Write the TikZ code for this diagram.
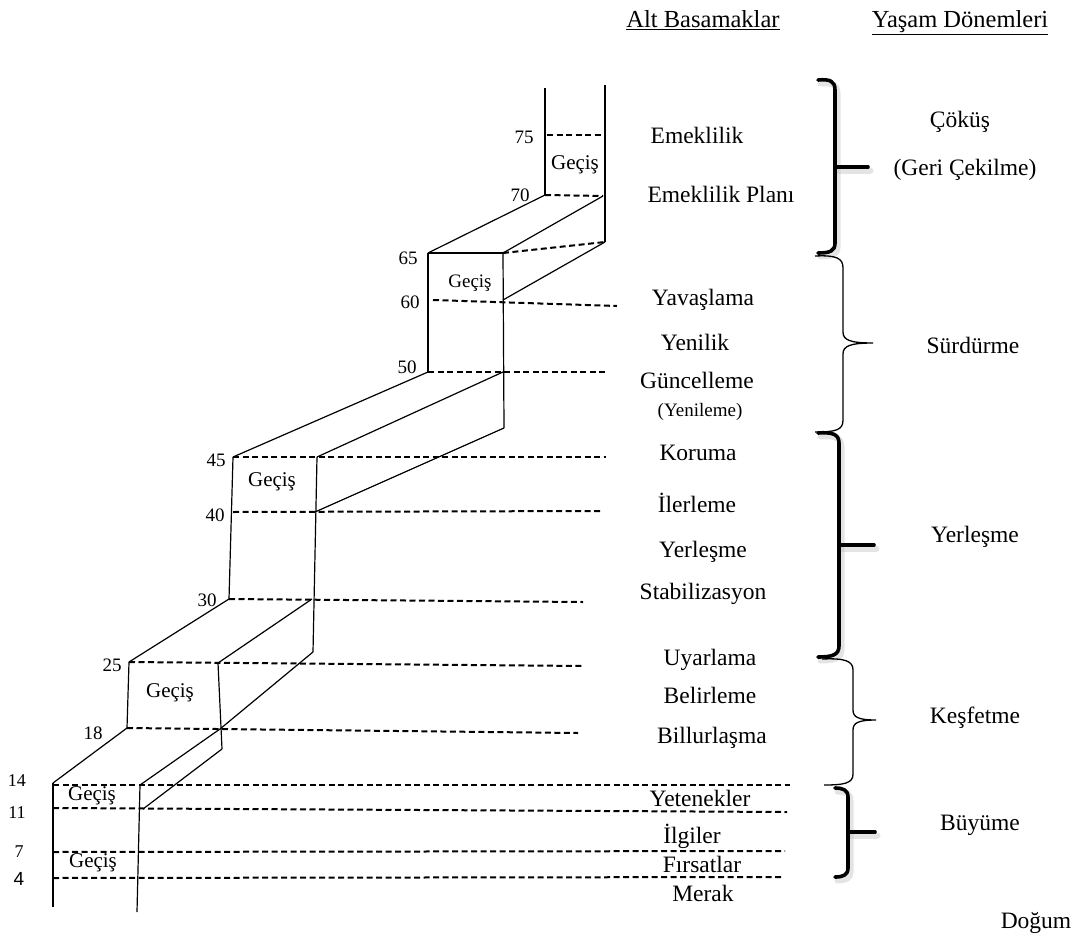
\documentclass[tikz,border=0pt]{standalone}
\usepackage{fontspec}
\setmainfont{Liberation Serif}
\newfontfamily\lsans{Liberation Sans}
\begin{document}
\begin{tikzpicture}[x=1pt,y=-1pt,
  solidln/.style={line width=1.2pt},
  dashln/.style={line width=2pt,dash pattern=on 6pt off 3.5pt},
  numlbl/.style={font=\fontsize{19}{22}\selectfont,inner sep=0pt},
  geclbl/.style={font=\fontsize{21}{24}\selectfont,inner sep=0pt},
  sublbl/.style={font=\fontsize{23.5}{27}\selectfont,inner sep=0pt},
  hdrlbl/.style={font=\fontsize{24.5}{28}\selectfont,inner sep=0pt,anchor=base},
  phaselbl/.style={font=\fontsize{23.5}{27}\selectfont,inner sep=0pt},
  boldbrace/.style={line width=3.6pt,line cap=round,line join=round},
  braceshadow/.style={line width=6pt,draw=black!30,opacity=0.35,line cap=round},
  thinbrace/.style={line width=1.3pt,line join=miter}]
\useasboundingbox (0,0) rectangle (1076,942);

% ---------- coordinates ----------
\coordinate (TLtop) at (545,88);  \coordinate (TRtop) at (605,85);
\coordinate (T75L) at (547,135);  \coordinate (T75R) at (605,135);
\coordinate (T70L) at (545,195);  \coordinate (T70R) at (603,196);
\coordinate (TRbot) at (605,242);
\coordinate (B65L) at (428,253);  \coordinate (B65R) at (503,253);
\coordinate (D60s) at (433,300);  \coordinate (D60e) at (617,306);
\coordinate (B60R) at (503,300);
\coordinate (B50L) at (428,372);  \coordinate (B50R) at (503,372);
\coordinate (D50e) at (605,372);
\coordinate (B65Rb) at (504,428);
\coordinate (B45L) at (233,457);  \coordinate (B45R) at (317,457);
\coordinate (D45e) at (606,457);
\coordinate (D40s) at (233,512);  \coordinate (D40e) at (602,511);
\coordinate (B40R) at (315,512);
\coordinate (B30L) at (229,599);  \coordinate (B30R) at (312,599);
\coordinate (D30e) at (583,602);
\coordinate (B45Rb) at (313,652);
\coordinate (B25L) at (129,662);  \coordinate (B25R) at (218,663);
\coordinate (D25e) at (583,666);
\coordinate (B18L) at (127,728);  \coordinate (B18R) at (220,729);
\coordinate (D18e) at (578,733);
\coordinate (B25Rb) at (222,749);
\coordinate (B14L) at (53,783);   \coordinate (B14R) at (140,785);
\coordinate (D14s) at (53,785);   \coordinate (D14e) at (790,785);
\coordinate (D11s) at (53,808);   \coordinate (D11e) at (787,812);
\coordinate (B11R) at (143,809);
\coordinate (D7s) at (53,852);    \coordinate (D7e) at (785,851);
\coordinate (D4s) at (53,878);    \coordinate (D4e) at (782,877);
\coordinate (BLbot) at (53,907);  \coordinate (BRbot) at (137,912);

% ---------- top column ----------
\draw[solidln] (TLtop) -- (T70L);
\draw[solidln] (TRtop) -- (TRbot);
\draw[dashln] (T75L) -- (T75R);
\draw[dashln] (T70L) -- (T70R);
\draw[solidln] (T70L) -- (B65L);
\draw[solidln] (T70R) -- (B65R);
\draw[solidln] (TRbot) -- (B60R);
\draw[dashln] (B65R) -- (TRbot);

% ---------- 65 box ----------
\draw[solidln] (B65L) -- (B65R);
\draw[solidln] (B65L) -- (B50L);
\draw[solidln] (B65R) -- (B65Rb);
\draw[dashln] (D60s) -- (D60e);
\draw[dashln] (B50L) -- (D50e);
\draw[solidln] (B50L) -- (B45L);
\draw[solidln] (B50R) -- (B45R);
\draw[solidln] (B65Rb) -- (B40R);

% ---------- 45 box ----------
\draw[dashln] (B45L) -- (D45e);
\draw[solidln] (B45L) -- (B30L);
\draw[solidln] (B45R) -- (B45Rb);
\draw[dashln] (D40s) -- (D40e);
\draw[dashln] (B30L) -- (D30e);
\draw[solidln] (B30L) -- (B25L);
\draw[solidln] (B30R) -- (B25R);
\draw[solidln] (B45Rb) -- (B18R);

% ---------- 25 box ----------
\draw[dashln] (B25L) -- (D25e);
\draw[solidln] (B25L) -- (B18L);
\draw[solidln] (B25R) -- (B25Rb);
\draw[dashln] (B18L) -- (D18e);
\draw[solidln] (B18L) -- (B14L);
\draw[solidln] (B18R) -- (B14R);
\draw[solidln] (B25Rb) -- (B11R);

% ---------- bottom box ----------
\draw[dashln] (D14s) -- (D14e);
\draw[dashln] (D11s) -- (D11e);
\draw[dashln] (D7s) -- (D7e);
\draw[dashln] (D4s) -- (D4e);
\draw[solidln] (B14L) -- (BLbot);
\draw[solidln] (B14R) -- (BRbot);

% ---------- age numbers ----------
\node[numlbl] (n75) at (524,137) {75};
\node[numlbl] (n70) at (520,195) {70};
\node[numlbl] (n65) at (408,258) {65};
\node[numlbl] (n60) at (410,302) {60};
\node[numlbl] (n50) at (407,367) {50};
\node[numlbl] (n45) at (216,460) {45};
\node[numlbl] (n40) at (215,515) {40};
\node[numlbl] (n30) at (207,600) {30};
\node[numlbl] (n25) at (112,665) {25};
\node[numlbl] (n18) at (93,733) {18};
\node[numlbl,font=\fontsize{18}{20}\selectfont] (n14) at (17,781) {14};
\node[numlbl,font=\fontsize{18}{20}\selectfont] (n11) at (17,813) {11};
\node[numlbl,font=\fontsize{18}{20}\selectfont] (n7) at (19,852) {7};
\node[numlbl,font=\lsans\fontsize{19}{22}\selectfont] (n4) at (19,879) {4};

% ---------- transition labels ----------
\node[geclbl] (g1) at (575,165) {Geçiş};
\node[geclbl,font=\fontsize{19}{22}\selectfont] (g2) at (470,283) {Geçiş};
\node[geclbl] (g3) at (272,482) {Geçiş};
\node[geclbl] (g4) at (170,693) {Geçiş};
\node[geclbl] (g5) at (92,796) {Geçiş};
\node[geclbl] (g6) at (93,863) {Geçiş};

% ---------- sub-stage labels ----------
\node[sublbl] (s1) at (697,135) {Emeklilik};
\node[sublbl] (s2) at (721,194) {Emeklilik Planı};
\node[sublbl] (s3) at (703,300) {Yavaşlama};
\node[sublbl] (s4) at (695,342) {Yenilik};
\node[sublbl] (s5) at (697,380) {Güncelleme};
\node[sublbl,font=\fontsize{19}{22}\selectfont] (s6) at (700,412) {(Yenileme)};
\node[sublbl] (s7) at (698,453) {Koruma};
\node[sublbl] (s8) at (697,503) {İlerleme};
\node[sublbl] (s9) at (703,552) {Yerleşme};
\node[sublbl] (s10) at (703,594) {Stabilizasyon};
\node[sublbl] (s11) at (710,660) {Uyarlama};
\node[sublbl] (s12) at (710,695) {Belirleme};
\node[sublbl] (s13) at (712,738) {Billurlaşma};
\node[sublbl] (s14) at (700,798) {Yetenekler};
\node[sublbl] (s15) at (692,836) {İlgiler};
\node[sublbl] (s16) at (702,864) {Fırsatlar};
\node[sublbl] (s17) at (703,893) {Merak};

% ---------- headers ----------
\node[hdrlbl] (h1) at (703,28) {\underline{Alt Basamaklar}};
\node[hdrlbl] (h2) at (960,28) {\underline{Yaşam Dönemleri}};

% ---------- phase labels ----------
\node[phaselbl] (p1) at (960,122) {Çöküş};
\node[phaselbl] (p2) at (965,170) {(Geri Çekilme)};
\node[phaselbl] (p3) at (973,345) {Sürdürme};
\node[phaselbl] (p4) at (975,537) {Yerleşme};
\node[phaselbl] (p5) at (975,718) {Keşfetme};
\node[phaselbl] (p6) at (980,825) {Büyüme};
\node[phaselbl] (p7) at (1036,923) {Doğum};

% ---------- braces ----------
\begin{scope}[shift={(2.5,3.5)}]
\draw[braceshadow] (818,80) .. controls (830,79) and (835,81) .. (835,90) -- (835,243) .. controls (835,251) and (830,253) .. (818,253);
\draw[braceshadow] (835,167) -- (868,167);
\draw[braceshadow] (818,433) .. controls (832,432) and (839,434) .. (839,443) -- (839,646) .. controls (839,655) and (832,657) .. (818,657);
\draw[braceshadow] (839,545) -- (874,545);
\draw[braceshadow] (835,788) .. controls (843,788) and (848,790) .. (848,797) -- (848,868) .. controls (848,875) and (843,877) .. (835,877);
\draw[braceshadow] (848,832) -- (875,832);
\end{scope}
% Cokus (bold)
\draw[boldbrace] (818,80) .. controls (830,79) and (835,81) .. (835,90) -- (835,243) .. controls (835,251) and (830,253) .. (818,253);
\draw[boldbrace] (835,167) -- (868,167);
% Surdurme (thin)
\draw[thinbrace] (815,256) .. controls (836,255) and (843,258) .. (843,268) -- (843,332)
  .. controls (843,340) and (850,343) .. (873,343)
  .. controls (850,343) and (843,346) .. (843,354) -- (843,420)
  .. controls (843,430) and (836,432) .. (815,432);
% Yerlesme (bold)
\draw[boldbrace] (818,433) .. controls (832,432) and (839,434) .. (839,443) -- (839,646) .. controls (839,655) and (832,657) .. (818,657);
\draw[boldbrace] (839,545) -- (874,545);
% Kesfetme (thin)
\draw[thinbrace] (822,659) .. controls (845,658) and (853,661) .. (853,670) -- (853,710)
  .. controls (853,717) and (858,720) .. (876,720)
  .. controls (858,720) and (853,723) .. (853,730) -- (853,774)
  .. controls (853,783) and (845,785) .. (824,785);
% Buyume (bold)
\draw[boldbrace] (835,788) .. controls (843,788) and (848,790) .. (848,797) -- (848,868) .. controls (848,875) and (843,877) .. (835,877);
\draw[boldbrace] (848,832) -- (875,832);
\end{tikzpicture}
\end{document}
